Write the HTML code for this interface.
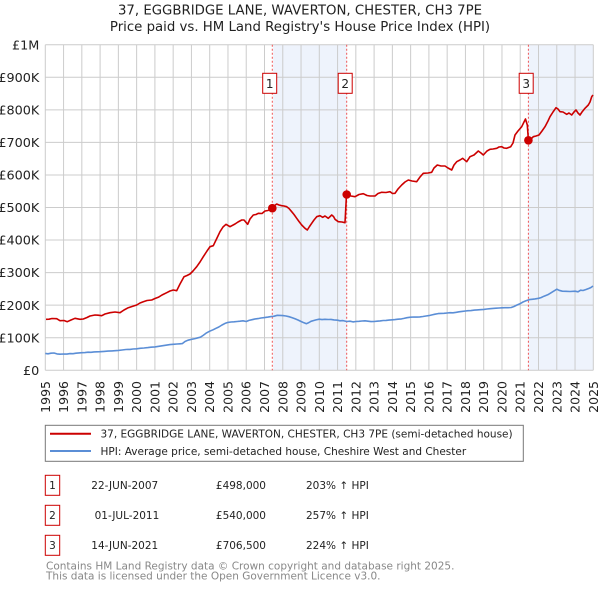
<!DOCTYPE html>
<html><head><meta charset="utf-8"><style>
html,body{margin:0;padding:0;background:#fff;}
svg{display:block;}
text{font-family:"DejaVu Sans","Liberation Sans",sans-serif;fill:#222;}
</style></head><body>
<svg width="600" height="590" viewBox="0 0 600 590" xmlns="http://www.w3.org/2000/svg">
<text x="300" y="14.5" font-size="13.3" text-anchor="middle">37, EGGBRIDGE LANE, WAVERTON, CHESTER, CH3 7PE</text>
<text x="300" y="31" font-size="13.3" text-anchor="middle">Price paid vs. HM Land Registry's House Price Index (HPI)</text>
<rect x="273.1" y="44.7" width="73.6" height="325.6" fill="#eef3fc"/>
<rect x="528.4" y="44.7" width="64.9" height="325.6" fill="#eef3fc"/>
<g stroke="#cccccc" stroke-width="1">
<line x1="45.3" y1="44.7" x2="593.3" y2="44.7"/><line x1="45.3" y1="77.26" x2="593.3" y2="77.26"/><line x1="45.3" y1="109.82" x2="593.3" y2="109.82"/><line x1="45.3" y1="142.38" x2="593.3" y2="142.38"/><line x1="45.3" y1="174.94" x2="593.3" y2="174.94"/><line x1="45.3" y1="207.5" x2="593.3" y2="207.5"/><line x1="45.3" y1="240.06" x2="593.3" y2="240.06"/><line x1="45.3" y1="272.62" x2="593.3" y2="272.62"/><line x1="45.3" y1="305.18" x2="593.3" y2="305.18"/><line x1="45.3" y1="337.74" x2="593.3" y2="337.74"/><line x1="45.3" y1="370.3" x2="593.3" y2="370.3"/>
<line x1="45.3" y1="44.7" x2="45.3" y2="370.3"/><line x1="63.57" y1="44.7" x2="63.57" y2="370.3"/><line x1="81.83" y1="44.7" x2="81.83" y2="370.3"/><line x1="100.1" y1="44.7" x2="100.1" y2="370.3"/><line x1="118.37" y1="44.7" x2="118.37" y2="370.3"/><line x1="136.63" y1="44.7" x2="136.63" y2="370.3"/><line x1="154.9" y1="44.7" x2="154.9" y2="370.3"/><line x1="173.17" y1="44.7" x2="173.17" y2="370.3"/><line x1="191.43" y1="44.7" x2="191.43" y2="370.3"/><line x1="209.7" y1="44.7" x2="209.7" y2="370.3"/><line x1="227.97" y1="44.7" x2="227.97" y2="370.3"/><line x1="246.23" y1="44.7" x2="246.23" y2="370.3"/><line x1="264.5" y1="44.7" x2="264.5" y2="370.3"/><line x1="282.77" y1="44.7" x2="282.77" y2="370.3"/><line x1="301.03" y1="44.7" x2="301.03" y2="370.3"/><line x1="319.3" y1="44.7" x2="319.3" y2="370.3"/><line x1="337.57" y1="44.7" x2="337.57" y2="370.3"/><line x1="355.83" y1="44.7" x2="355.83" y2="370.3"/><line x1="374.1" y1="44.7" x2="374.1" y2="370.3"/><line x1="392.37" y1="44.7" x2="392.37" y2="370.3"/><line x1="410.63" y1="44.7" x2="410.63" y2="370.3"/><line x1="428.9" y1="44.7" x2="428.9" y2="370.3"/><line x1="447.17" y1="44.7" x2="447.17" y2="370.3"/><line x1="465.43" y1="44.7" x2="465.43" y2="370.3"/><line x1="483.7" y1="44.7" x2="483.7" y2="370.3"/><line x1="501.97" y1="44.7" x2="501.97" y2="370.3"/><line x1="520.23" y1="44.7" x2="520.23" y2="370.3"/><line x1="538.5" y1="44.7" x2="538.5" y2="370.3"/><line x1="556.77" y1="44.7" x2="556.77" y2="370.3"/><line x1="575.03" y1="44.7" x2="575.03" y2="370.3"/><line x1="593.3" y1="44.7" x2="593.3" y2="370.3"/>
</g>
<g font-size="12.8" text-anchor="end">
<text x="39.3" y="49.3">£1M</text><text x="39.3" y="81.9">£900K</text><text x="39.3" y="114.4">£800K</text><text x="39.3" y="147">£700K</text><text x="39.3" y="179.5">£600K</text><text x="39.3" y="212.1">£500K</text><text x="39.3" y="244.7">£400K</text><text x="39.3" y="277.2">£300K</text><text x="39.3" y="309.8">£200K</text><text x="39.3" y="342.3">£100K</text><text x="39.3" y="374.9">£0</text>
</g>
<g font-size="12.5" text-anchor="end">
<text transform="translate(49.8,381) rotate(-90)">1995</text><text transform="translate(68.07,381) rotate(-90)">1996</text><text transform="translate(86.33,381) rotate(-90)">1997</text><text transform="translate(104.6,381) rotate(-90)">1998</text><text transform="translate(122.87,381) rotate(-90)">1999</text><text transform="translate(141.13,381) rotate(-90)">2000</text><text transform="translate(159.4,381) rotate(-90)">2001</text><text transform="translate(177.67,381) rotate(-90)">2002</text><text transform="translate(195.93,381) rotate(-90)">2003</text><text transform="translate(214.2,381) rotate(-90)">2004</text><text transform="translate(232.47,381) rotate(-90)">2005</text><text transform="translate(250.73,381) rotate(-90)">2006</text><text transform="translate(269,381) rotate(-90)">2007</text><text transform="translate(287.27,381) rotate(-90)">2008</text><text transform="translate(305.53,381) rotate(-90)">2009</text><text transform="translate(323.8,381) rotate(-90)">2010</text><text transform="translate(342.07,381) rotate(-90)">2011</text><text transform="translate(360.33,381) rotate(-90)">2012</text><text transform="translate(378.6,381) rotate(-90)">2013</text><text transform="translate(396.87,381) rotate(-90)">2014</text><text transform="translate(415.13,381) rotate(-90)">2015</text><text transform="translate(433.4,381) rotate(-90)">2016</text><text transform="translate(451.67,381) rotate(-90)">2017</text><text transform="translate(469.93,381) rotate(-90)">2018</text><text transform="translate(488.2,381) rotate(-90)">2019</text><text transform="translate(506.47,381) rotate(-90)">2020</text><text transform="translate(524.73,381) rotate(-90)">2021</text><text transform="translate(543,381) rotate(-90)">2022</text><text transform="translate(561.27,381) rotate(-90)">2023</text><text transform="translate(579.53,381) rotate(-90)">2024</text><text transform="translate(597.8,381) rotate(-90)">2025</text>
</g>
<g stroke="#ee5555" stroke-width="1" stroke-dasharray="2,2">
<line x1="272.3" y1="44.7" x2="272.3" y2="370.3"/><line x1="346.7" y1="44.7" x2="346.7" y2="370.3"/><line x1="528.4" y1="44.7" x2="528.4" y2="370.3"/>
</g>
<polyline fill="none" stroke="#5b8ed6" stroke-width="1.6" stroke-linejoin="round" points="45.3,353.4 48,353.8 51,353.2 54,353.0 57,353.9 60,354.2 63.6,354.0 67,354.1 70,353.6 73,353.7 76,353.2 79,352.9 81.8,352.7 85,352.6 88,352.2 91,352.3 94,351.9 97,351.8 100.1,351.7 104,351.4 108,351.1 112,350.9 115,350.7 118.4,350.4 122,350 126,349.5 130,349.4 133,349 136.6,348.8 140,348.3 144,348 148,347.6 151,347.2 154.9,346.9 158,346.4 162,345.8 166,345.2 170,344.6 173.2,344.3 177,344 180,343.8 182.3,343.6 185,341.5 188,340.2 191.4,339.4 195,338.6 198,337.8 200.6,337.1 203,335.5 206,333.2 209.7,331.2 213,329.8 216,328.3 218.8,327.0 222,325 225,323.4 228,322.4 231,322 234,321.8 237.1,321.5 240,321.2 243,320.8 246.3,321.5 249,320.4 252,319.7 255.4,318.9 258,318.6 261,318 264.5,317.6 268,317.1 271,316.6 273.7,316.3 277.3,315.3 280,315.4 282.8,315.6 286,316 289,316.7 291.9,317.6 295,318.8 298,320 301.1,321.5 304,322.8 306.5,323.7 309,322.5 311,321.3 313.8,320.5 316,319.9 319.3,319.2 322,319.6 325,319.3 328.4,319.5 331,319.4 334,319.9 337.6,320.2 340,320.8 343,320.6 346.7,321.5 350,321.2 353,321.9 355.8,321.5 359,321.3 362,321 365,320.8 368,321.2 371,321.6 374.1,321.5 377,321.2 380,320.9 383.2,320.5 386,320.4 389,320.1 392.4,319.8 395,319.6 398,319.2 401.5,318.9 404,318.4 407,317.7 410.6,317.2 414,317 417,317.1 419.8,316.9 423,316.5 426,316 428.9,315.6 432,314.9 435,314.2 438.1,313.6 441,313.4 444,313.3 447.2,313.0 450,312.7 453,312.8 456.3,312.3 459,311.8 462,311.4 465.5,311.0 468,310.7 471,310.6 474.6,310.1 477,309.9 480,309.7 483.8,309.4 487,309 490,308.7 492.9,308.4 496,308.2 499,308 502,307.8 505,307.7 508,307.7 511.2,307.5 514,306.5 517,305 520.3,303.6 523,302 526,300.8 529.4,299.6 532,299.3 535,298.9 538.6,298.3 541,297.6 544,296.2 547.7,294.8 550,293.4 553,291.6 556.9,289.2 559,290.3 562.3,291.2 566,291.3 570,291.5 575.1,291.2 578,291.8 580.6,290.2 583,290.5 586,289.5 589,288.4 591,287.5 593,286.0"/>
<polyline fill="none" stroke="#cc0000" stroke-width="1.6" stroke-linejoin="round" points="46,319.3 49,319.2 52,318.5 56.7,318.7 60,320.7 64,320.5 67.3,321.7 71,320 75,318.3 80,319.3 83.3,319 87,317.5 90,316 95,315 98,315.2 101.7,315.7 105,314 110,312.7 115,312 120,312.7 124,310 128.3,307.7 132,306.5 136.7,305 140,303 143.3,301.7 147,300.5 151.7,300 155,298.5 158.3,297.3 162,295 166.7,292.7 170,291 173.3,290 176.7,290.7 180,284 184,276.7 187,275.5 190,274 193,271 196.7,266.7 200,262 203.3,256.7 207,251 210,246.7 213.3,245.7 217,238 220,231.7 223,227 226,224.3 230,226.7 235,224 238,222 241.7,220 244,220 247.7,224.3 250,219 253.3,215 256,214.5 258.3,213.3 262,213.5 265,211 268,210.5 270,209.3 272.3,208.2 274,206 276.7,204 279,205 281.7,205.7 284,206 286.7,206.7 289,208.5 291.7,211.7 294,214.5 296.7,218.3 299,221.5 301.7,225 305,228.3 307.3,230 309.5,226.5 311.7,223.3 314,220 316.7,216.7 320,215.7 322.7,217.3 325,216 328.3,218.3 331.7,215 333.5,216.5 335,219.3 338.3,221.7 342,222 345,222.7 346.5,194.5 351,196 355,196.7 359,194.5 363.3,193.7 367,195.5 370,196 375,196 378,193.5 381.7,192.3 386,192.5 390,191.7 392.5,193.5 395,193.3 398,189 401.7,185 405,182 408.3,180 412,181 416.7,181.7 420,177 423.3,173.3 428,173 431.7,172.3 434,168 437.3,165 441,166 445,166 448,168 451.7,170 454,165 456.7,161.7 460,160 462.7,158.3 466.7,161.7 470,156.7 474,155 478.3,151 481,153 483.3,155 487,151 490,149.3 493,149 496.7,148.3 499,147 501.7,146.7 504,148 506.7,148.3 510.7,146.7 513,143 515,135 518,131 521.7,126.7 524,122 525.5,119 527.3,125 528.4,140.3 531,139 533.3,136.7 536,136 539,135 542,131 545,126.7 548,121 550,116.7 553,112 556,107.7 558,109 560,111.7 563,112 566.7,114.3 569,113 571.7,115 574,112 576,110 578,113 580,115 582,112 585,108.3 588.3,105 590,102 591.7,96.7 593,95"/>
<g fill="#cc0000">
<circle cx="272.3" cy="208.2" r="4.3"/><circle cx="346.7" cy="194.5" r="4.3"/><circle cx="528.4" cy="140.3" r="4.3"/>
</g>
<g fill="#fff" stroke="#cc0000" stroke-width="1">
<rect x="262.7" y="73.3" width="14" height="20"/><rect x="338.2" y="73.3" width="14" height="20"/><rect x="519.2" y="73.3" width="14" height="20"/>
</g>
<g font-size="12" text-anchor="middle">
<text x="269.7" y="88">1</text><text x="345.2" y="88">2</text><text x="526.2" y="88">3</text>
</g>
<rect x="45.3" y="425.3" width="478" height="36" fill="#fff" stroke="#777" stroke-width="1"/>
<line x1="50" y1="433.7" x2="91" y2="433.7" stroke="#cc0000" stroke-width="2"/>
<line x1="50" y1="451" x2="91" y2="451" stroke="#5b8ed6" stroke-width="2"/>
<g font-size="10.5">
<text x="100.5" y="437.5">37, EGGBRIDGE LANE, WAVERTON, CHESTER, CH3 7PE (semi-detached house)</text>
<text x="100.5" y="455">HPI: Average price, semi-detached house, Cheshire West and Chester</text>
</g>
<g fill="#fff" stroke="#cc0000" stroke-width="1">
<rect x="45.3" y="475.3" width="14.4" height="20"/><rect x="45.3" y="505.3" width="14.4" height="20"/><rect x="45.3" y="535.3" width="14.4" height="20"/>
</g>
<g font-size="10.5">
<text x="52.5" y="489" text-anchor="middle">1</text>
<text x="91.3" y="489">22-JUN-2007</text>
<text x="215.9" y="489">£498,000</text>
<text x="306" y="489">203% ↑ HPI</text>
<text x="52.5" y="519" text-anchor="middle">2</text>
<text x="94.6" y="519">01-JUL-2011</text>
<text x="215.9" y="519">£540,000</text>
<text x="306" y="519">257% ↑ HPI</text>
<text x="52.5" y="549" text-anchor="middle">3</text>
<text x="91.3" y="549">14-JUN-2021</text>
<text x="215.9" y="549">£706,500</text>
<text x="306" y="549">224% ↑ HPI</text>
</g>
<g font-size="10.5">
<text x="46" y="569.7" style="fill:#888">Contains HM Land Registry data © Crown copyright and database right 2025.</text>
<text x="46" y="579.3" style="fill:#888">This data is licensed under the Open Government Licence v3.0.</text>
</g>
</svg>
</body></html>
